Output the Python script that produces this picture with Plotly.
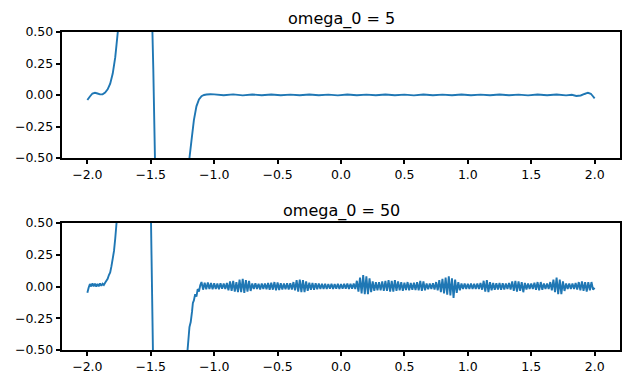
import numpy as np
import plotly.graph_objects as go

# ---------------- data ----------------
titles = ["omega_0 = 5", "omega_0 = 50"]
x_ticks = [-2.0, -1.5, -1.0, -0.5, 0.0, 0.5, 1.0, 1.5, 2.0]
y_ticks = [-0.5, -0.25, 0.0, 0.25, 0.5]

# top panel (omega_0 = 5)
top_x = [-2.0, -1.98, -1.96, -1.94, -1.92, -1.90, -1.88, -1.86, -1.84, -1.82,
         -1.80, -1.78, -1.77, -1.76, -1.74, -1.70, -1.64, -1.58, -1.53, -1.50,
         -1.487, -1.48, -1.467, -1.46, -1.42, -1.36, -1.30, -1.25, -1.21, -1.195,
         -1.18, -1.16, -1.14, -1.12, -1.10, -1.08, -1.06, -1.03,
         -1.0, -0.925, -0.85, -0.775, -0.7, -0.625, -0.55, -0.475, -0.4, -0.325,
         -0.25, -0.175, -0.1, -0.025, 0.05, 0.125, 0.2, 0.275, 0.35, 0.425,
         0.5, 0.575, 0.65, 0.725, 0.8, 0.875, 0.95, 1.025, 1.1, 1.175,
         1.25, 1.325, 1.4, 1.475, 1.55, 1.625, 1.7, 1.775, 1.82, 1.856,
         1.89, 1.92, 1.947, 1.97, 1.985, 2.0]
top_y = [-0.04, -0.012, 0.012, 0.018, 0.012, 0.005, 0.006, 0.02, 0.045, 0.09,
         0.17, 0.3, 0.4, 0.5, 0.75, 1.4, 2.4, 3.0, 2.6, 1.8,
         0.5, 0.2, -0.5, -0.9, -2.6, -3.2, -2.6, -1.5, -0.75, -0.5,
         -0.37, -0.2, -0.09, -0.035, -0.01, 0.0, 0.004, 0.006,
         0.005, -0.002, 0.005, -0.003, 0.004, -0.002, 0.004, -0.002, 0.003, -0.002,
         0.004, -0.002, 0.003, -0.003, 0.004, -0.002, 0.003, -0.002, 0.004, -0.002,
         0.003, -0.003, 0.004, -0.002, 0.003, -0.002, 0.004, -0.002, 0.003, -0.002,
         0.004, -0.002, 0.003, -0.003, 0.004, -0.002, 0.004, -0.003, 0.002, -0.008,
         -0.004, 0.008, 0.018, 0.01, -0.008, -0.027]

# bottom panel (omega_0 = 50), left part
bot_left_x = [-2.0, -1.99, -1.98, -1.97, -1.96, -1.95, -1.94, -1.93, -1.92, -1.91,
              -1.90, -1.89, -1.88, -1.87, -1.86, -1.85, -1.84, -1.83, -1.82, -1.81,
              -1.80, -1.79, -1.78, -1.77, -1.75, -1.72, -1.68, -1.62, -1.56, -1.52,
              -1.505, -1.498, -1.483, -1.475, -1.45, -1.40, -1.33, -1.27, -1.23, -1.21,
              -1.20, -1.195, -1.185, -1.175, -1.168, -1.16, -1.15, -1.14, -1.13, -1.12,
              -1.11]
bot_left_y = [-0.05, -0.01, 0.02, 0.0, 0.025, 0.002, 0.022, 0.0, 0.02, 0.002,
              0.024, 0.005, 0.022, 0.012, 0.03, 0.045, 0.06, 0.09, 0.11, 0.16,
              0.22, 0.28, 0.38, 0.5, 0.75, 1.2, 2.0, 3.0, 3.2, 2.2,
              1.2, 0.5, -0.5, -1.2, -2.5, -3.5, -3.0, -1.8, -0.9, -0.5,
              -0.38, -0.32, -0.28, -0.2, -0.13, -0.11, -0.06, -0.08, -0.02, -0.04,
              0.01]

# bottom panel, oscillating part: samples every 0.0125 from -1.1 to 2.0
bot_osc_start = -1.1
bot_osc_end = 2.0
bot_osc_y = [
    0.035, -0.025, 0.03, -0.022, 0.032, -0.02, 0.028, -0.022,     # -1.1
    0.025, -0.02, 0.024, -0.022, 0.026, -0.018, 0.024, -0.02,     # -1.0
    0.028, -0.03, 0.04, -0.035, 0.045, -0.04, 0.035, -0.045,      # -0.9
    0.055, -0.045, 0.06, -0.05, 0.05, -0.04, 0.045, -0.035,       # -0.8
    0.024, -0.02, 0.026, -0.02, 0.022, -0.024, 0.024, -0.02,      # -0.7
    0.024, -0.022, 0.028, -0.025, 0.03, -0.025, 0.035, -0.03,     # -0.6
    0.032, -0.028, 0.026, -0.024, 0.024, -0.022, 0.026, -0.024,   # -0.5
    0.026, -0.024, 0.035, -0.03, 0.05, -0.04, 0.055, -0.045,      # -0.4
    0.05, -0.045, 0.04, -0.035, 0.03, -0.026, 0.028, -0.025,      # -0.3
    0.025, -0.022, 0.024, -0.02, 0.022, -0.02, 0.022, -0.02,      # -0.2
    0.02, -0.018, 0.022, -0.02, 0.02, -0.018, 0.022, -0.02,       # -0.1
    0.02, -0.018, 0.022, -0.018, 0.024, -0.02, 0.022, -0.018,     # 0.0
    0.024, -0.02, 0.045, -0.04, 0.07, -0.055, 0.09, -0.06,        # 0.1
    0.08, -0.06, 0.065, -0.045, 0.04, -0.035, 0.035, -0.03,       # 0.2
    0.035, -0.03, 0.04, -0.035, 0.045, -0.035, 0.05, -0.04,       # 0.3
    0.045, -0.04, 0.05, -0.035, 0.04, -0.03, 0.035, -0.035,       # 0.4
    0.03, -0.028, 0.035, -0.03, 0.028, -0.026, 0.03, -0.028,      # 0.5
    0.035, -0.03, 0.045, -0.035, 0.04, -0.03, 0.024, -0.022,      # 0.6
    0.024, -0.02, 0.026, -0.024, 0.035, -0.03, 0.05, -0.045,      # 0.7
    0.06, -0.055, 0.07, -0.065, 0.08, -0.07, 0.065, -0.09,        # 0.8
    0.055, -0.05, 0.035, -0.03, 0.024, -0.02, 0.024, -0.02,       # 0.9
    0.022, -0.02, 0.024, -0.02, 0.022, -0.02, 0.024, -0.02,       # 1.0
    0.028, -0.025, 0.045, -0.04, 0.05, -0.045, 0.035, -0.03,      # 1.1
    0.028, -0.025, 0.026, -0.024, 0.028, -0.025, 0.026, -0.024,   # 1.2
    0.024, -0.02, 0.028, -0.024, 0.04, -0.035, 0.045, -0.04,      # 1.3
    0.04, -0.035, 0.035, -0.045, 0.028, -0.024, 0.024, -0.02,     # 1.4
    0.024, -0.02, 0.03, -0.026, 0.035, -0.03, 0.035, -0.026,      # 1.5
    0.024, -0.02, 0.024, -0.02, 0.035, -0.03, 0.055, -0.045,      # 1.6
    0.07, -0.06, 0.055, -0.06, 0.04, -0.035, 0.024, -0.02,        # 1.7
    0.024, -0.02, 0.024, -0.02, 0.028, -0.024, 0.035, -0.03,      # 1.8
    0.04, -0.035, 0.035, -0.04, 0.035, -0.03, 0.035, -0.025,      # 1.9
    -0.01,                                                        # 2.0
]

# ---------------- figure ----------------
bot_osc_x = list(np.linspace(bot_osc_start, bot_osc_end, len(bot_osc_y)))
bot_x = bot_left_x + bot_osc_x
bot_y = bot_left_y + bot_osc_y

W, H = 630, 384
L, R, T, B = 62, 10, 32, 34
plot_h = H - T - B
top_dom = [(350 - 158) / plot_h, 1.0]
bot_dom = [0.0, (350 - 223) / plot_h]

line_style = dict(color="#1f77b4", width=1.9, simplify=False)
fig = go.Figure()
fig.add_trace(go.Scatter(x=top_x, y=top_y, mode="lines", line=line_style,
                         xaxis="x", yaxis="y", showlegend=False))
fig.add_trace(go.Scatter(x=bot_x, y=bot_y, mode="lines", line=line_style,
                         xaxis="x2", yaxis="y2", showlegend=False))

tickfont = dict(family="DejaVu Sans", size=12.5, color="#000000")
xcommon = dict(range=[-2.2, 2.2], tickvals=x_ticks, tickformat=".1f",
               showline=True, mirror=True, linecolor="#000000", linewidth=1.5,
               ticks="outside", ticklen=4.5, tickwidth=1.5, tickcolor="#000000",
               showgrid=False, zeroline=False, tickfont=tickfont, automargin=False)
ycommon = dict(range=[-0.5, 0.5], tickvals=y_ticks, tickformat=".2f",
               showline=True, mirror=True, linecolor="#000000", linewidth=1.5,
               ticks="outside", ticklen=4.5, tickwidth=1.5, tickcolor="#000000",
               showgrid=False, zeroline=False, tickfont=tickfont, automargin=False)

fig.update_layout(
    width=W, height=H,
    margin=dict(l=L, r=R, t=T, b=B, autoexpand=False),
    paper_bgcolor="white", plot_bgcolor="white",
    xaxis=dict(**xcommon, anchor="y"),
    yaxis=dict(**ycommon, domain=top_dom, anchor="x"),
    xaxis2=dict(**xcommon, anchor="y2"),
    yaxis2=dict(**ycommon, domain=bot_dom, anchor="x2"),
    annotations=[
        dict(text=titles[0], xref="paper", yref="paper", x=0.5,
             y=(350 - 19) / plot_h, xanchor="center", yanchor="middle",
             showarrow=False, font=dict(family="DejaVu Sans", size=16, color="black")),
        dict(text=titles[1], xref="paper", yref="paper", x=0.5,
             y=(350 - 211) / plot_h, xanchor="center", yanchor="middle",
             showarrow=False, font=dict(family="DejaVu Sans", size=16, color="black")),
    ],
)

fig.write_html("out.html", config={"displayModeBar": False},
               post_script="document.body.style.margin='0';document.body.style.padding='0';")
